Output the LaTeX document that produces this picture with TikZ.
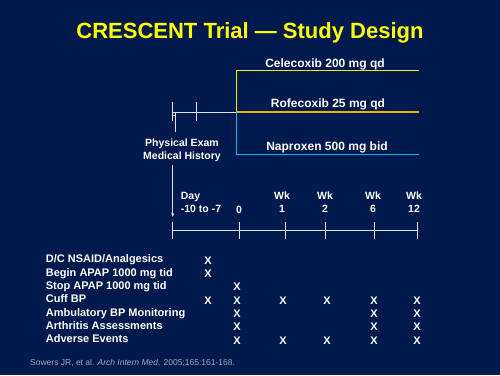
\documentclass[tikz,border=0pt]{standalone}
\usepackage{fontspec}
\setmainfont{Liberation Sans}
\usetikzlibrary{arrows.meta,positioning}
\definecolor{cNavy}{RGB}{0,26,77}
\definecolor{cTitle}{RGB}{255,255,0}
\definecolor{cCele}{RGB}{255,232,0}
\definecolor{cRofe}{RGB}{232,180,0}
\definecolor{cNapr}{RGB}{0,190,240}
\definecolor{cLine}{RGB}{225,228,238}
\definecolor{cCite}{RGB}{165,170,190}
\tikzset{
  basetext/.style={text=white,inner sep=0pt,anchor=base,
                   font=\bfseries\fontsize{11}{13}\selectfont},
  titletext/.style={basetext,text=cTitle,font=\bfseries\fontsize{22}{26}\selectfont},
  armtext/.style={basetext,font=\bfseries\fontsize{12}{14}\selectfont},
  timetext/.style={basetext,align=center,font=\bfseries\fontsize{10.5}{13}\selectfont},
  rowtext/.style={basetext,anchor=base west},
  marktext/.style={basetext},
  citetext/.style={inner sep=0pt,anchor=base west,text=cCite,
                   font=\fontsize{8.5}{10}\selectfont},
  armline/.style={line width=1.3pt},
  whiteline/.style={draw=cLine,line width=1pt},
  arr/.style={-{Stealth[length=4pt,width=3pt]},whiteline}
}

\begin{document}
\begin{tikzpicture}[x=1pt,y=-1pt]
  \fill[cNavy] (0,0) rectangle (500,375);

  \node[titletext] (title) at (250,38) {CRESCENT Trial --- Study Design};

  % treatment arms
  \coordinate (runin) at (172.7,112);
  \coordinate (split) at (236.3,112);
  \coordinate (celeEnd) at (419,70.7);
  \coordinate (rofeEnd) at (419,112);
  \coordinate (naprEnd) at (419,154.3);
  \draw[whiteline] (runin) -- (split);
  \draw[armline,cCele] (split) |- (celeEnd);
  \draw[armline,cRofe] (split) -- (rofeEnd);
  \draw[armline,cNapr] (split) |- (naprEnd);
  \draw[whiteline] (172.7,101.7) -- (172.7,120.7);
  \draw[whiteline] (196.7,102) -- (196.7,121);
  \draw[whiteline] (172.7,115) -- (176,115) (175.5,113) -- (175.5,132);

  \node[armtext] (cele) at (325,67) {Celecoxib 200 mg qd};
  \node[armtext] (rofe) at (328,107.7) {Rofecoxib 25 mg qd};
  \node[armtext] (napr) at (327,150.5) {Naproxen 500 mg bid};

  % base of a two-line node sits on its last line
  \node[timetext] (exam) at (182,159) {Physical Exam\\Medical History};

  % timeline
  \coordinate (t0) at (172.7,230);
  \coordinate (t1) at (239,230);
  \coordinate (t2) at (285,230);
  \coordinate (t3) at (325,230);
  \coordinate (t4) at (374.7,230);
  \coordinate (t5) at (417,230);
  \coordinate (examDown) at (172.7,165);
  \draw[arr] (examDown) -- (172.7,217);
  \draw[whiteline] (t0) -- (t5);
  \foreach \t in {t0,t1,t2,t3,t4,t5}
    \draw[whiteline] ([yshift=-8.5pt]\t) -- ([yshift=8.5pt]\t);

  \node[timetext,anchor=base west,align=left] (day) at (180.7,212.3) {Day\\-10 to -7};
  \node[timetext] (wk0) at (239,213) {0};
  \node[timetext] (wk1) at (282,212) {Wk\\1};
  \node[timetext] (wk2) at (325,212) {Wk\\2};
  \node[timetext] (wk6) at (373,212) {Wk\\6};
  \node[timetext] (wk12) at (414,212) {Wk\\12};

  % assessments
  \node[rowtext] (rNsaid) at (45.7,262.7) {D/C NSAID/Analgesics};
  \node[rowtext] (rBegin) at (45.7,276) {Begin APAP 1000 mg tid};
  \node[rowtext] (rStop) at (45.7,289.3) {Stop APAP 1000 mg tid};
  \node[rowtext] (rCuff) at (45.7,302.7) {Cuff BP};
  \node[rowtext] (rAmbu) at (45.7,316) {Ambulatory BP Monitoring};
  \node[rowtext] (rArth) at (45.7,329.3) {Arthritis Assessments};
  \node[rowtext] (rAdv) at (45.7,342.7) {Adverse Events};

  \foreach \r/\y/\cols in {1/262.7/{208},2/276/{208},3/289.3/{237},
      4/302.7/{208,237,283,327,374,417},5/316/{237,374,417},
      6/329.3/{237,374,417},7/342.7/{237,283,327,374,417}}
    \foreach \c in \cols
      \node[marktext] (x-\r-\c) at (\c,\y+1.3) {X};

  \node[citetext] (cite) at (30,365.5)
      {Sowers JR, et al. \textit{Arch Intern Med}. 2005;165:161-168.};
\end{tikzpicture}
\end{document}
